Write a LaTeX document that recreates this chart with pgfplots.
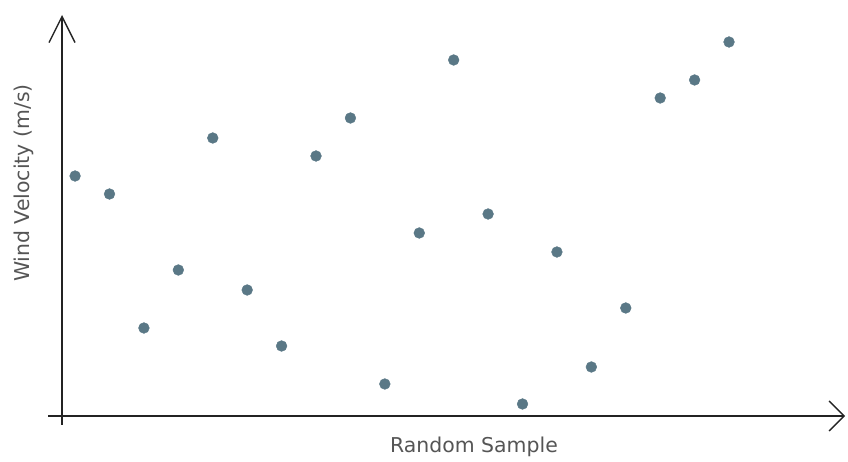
\documentclass[border=0pt]{standalone}
\usepackage{fontspec}
\setmainfont{DejaVu Sans}
\usepackage{pgfplots}
\pgfplotsset{compat=1.18}
\usetikzlibrary{arrows.meta}
\definecolor{dot}{RGB}{90,120,134}
\definecolor{axc}{RGB}{35,35,35}
\definecolor{lab}{RGB}{85,85,85}
\begin{document}
\begin{tikzpicture}[x=1bp,y=1bp]
\useasboundingbox (0,0) rectangle (848,462);
\begin{axis}[
  at={(48bp,37bp)}, anchor=south west,
  scale only axis, width=797bp, height=410bp,
  xmin=-0.407, xmax=22.75, ymin=-9, ymax=401,
  axis lines=middle, xtick=\empty, ytick=\empty,
  axis line style={line width=1.9bp, draw=axc},
  x axis line style={-{Straight Barb[length=15bp,width=30bp,line width=1.4bp]}},
  y axis line style={-{Straight Barb[length=26bp,width=26bp,line width=1.4bp]}},
  clip=false,
  xlabel={Random Sample},
  ylabel={Wind Velocity (m/s)},
  every axis x label/.style={at={(axis description cs:0.5345,-0.068)}, anchor=base, text=lab, font=\fontsize{20.5}{24}\selectfont},
  every axis y label/.style={at={(axis description cs:-0.030,0.590)}, anchor=center, rotate=90, text=lab, font=\fontsize{20.5}{24}\selectfont},
]
\addplot[only marks, mark=*, mark size=5.4bp, color=dot] table {
x y
0.38 240
1.38 222
2.38 88
3.38 146
4.38 278
5.38 126
6.38 70
7.38 260
8.38 298
9.38 32
10.38 183
11.38 356
12.38 202
13.38 12
14.38 164
15.38 49
16.38 108
17.38 318
18.38 336
19.38 374
};
\end{axis}
\end{tikzpicture}
\end{document}
